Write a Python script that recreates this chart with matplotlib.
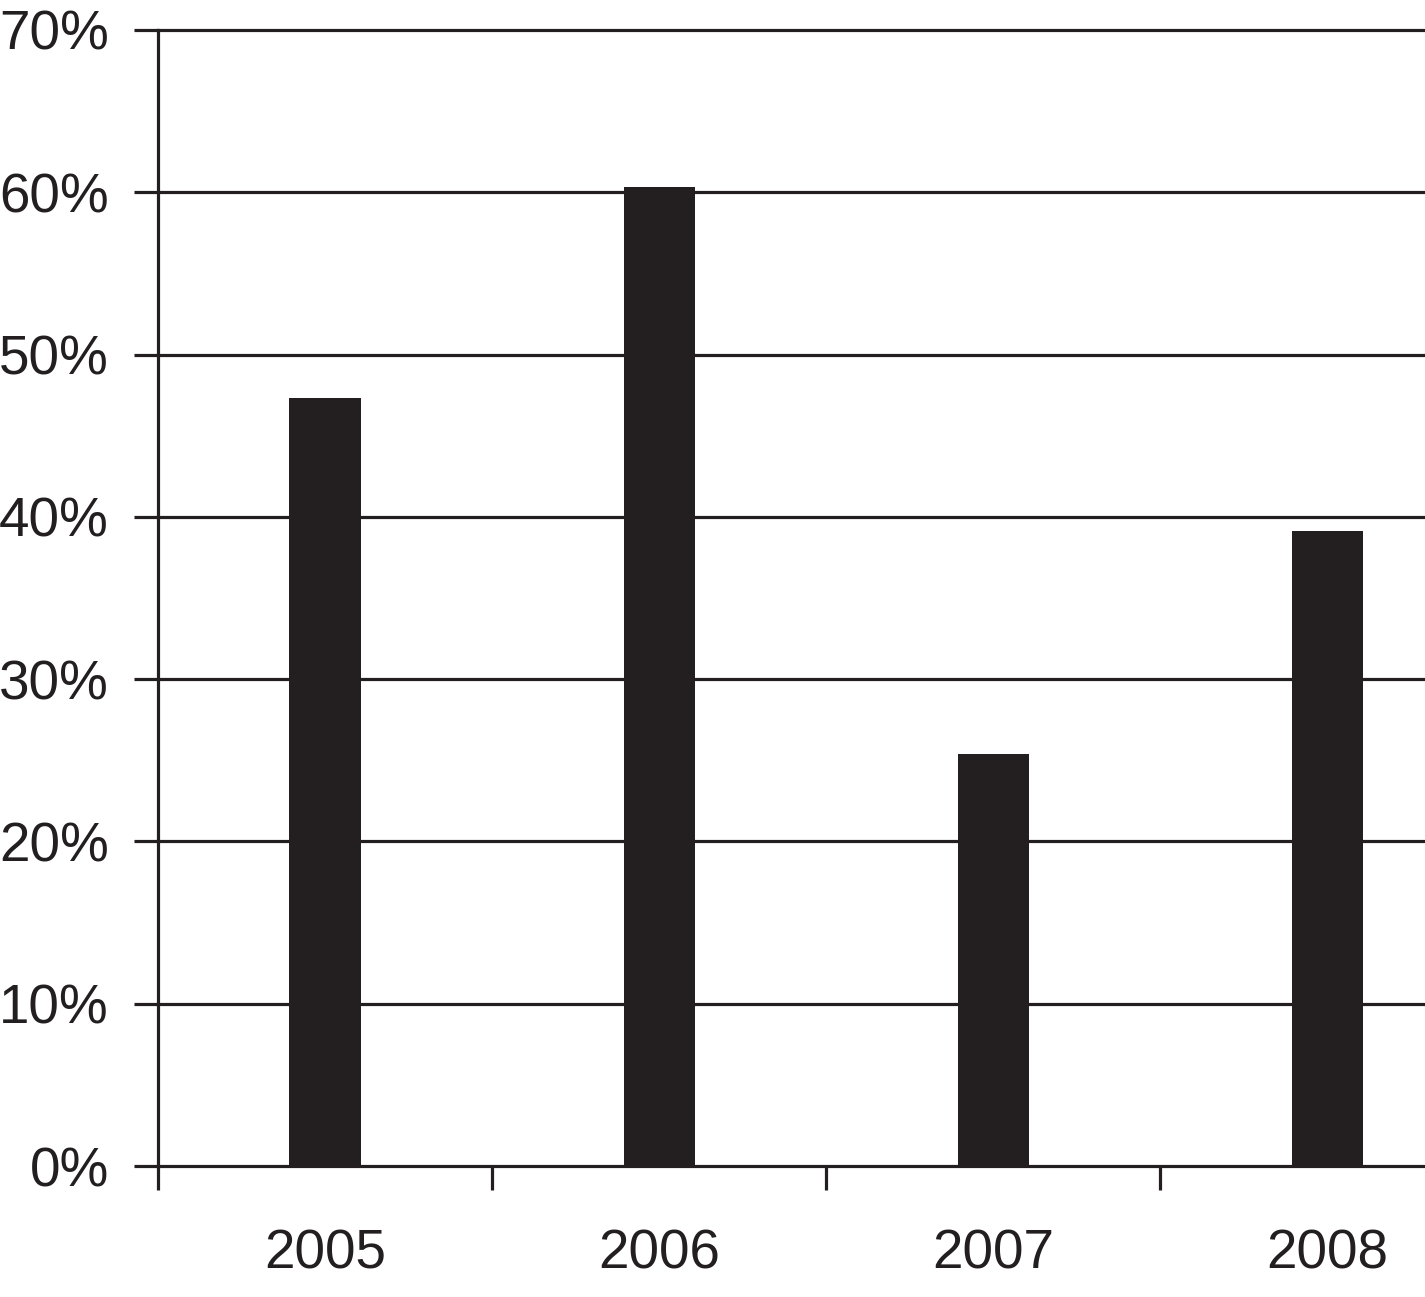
import numpy as np
import matplotlib
matplotlib.use("Agg")
import matplotlib.pyplot as plt
from matplotlib.ticker import FixedLocator, NullFormatter

plt.rcParams['font.family'] = ['Liberation Sans', 'DejaVu Sans']

years = ["2005", "2006", "2007", "2008"]
values = [47.3, 60.3, 25.4, 39.1]
yticks = [0, 10, 20, 30, 40, 50, 60, 70]
ytick_labels = [f"{v}%" for v in yticks]

ink = "#231f20"
fig = plt.figure(figsize=(14.25, 12.97), dpi=100)
ax = fig.add_axes([0.1109, 0.1010, 0.8891, 0.8759])

x = np.arange(len(years)) + 0.5
ax.bar(x, values, width=0.213, color=ink, zorder=3)

ax.set_xlim(0, 3.793)
ax.set_ylim(0, 70)

for s in ["top", "right", "bottom"]:
    ax.spines[s].set_visible(False)
ax.spines["left"].set_linewidth(2.3)
ax.spines["left"].set_color(ink)

ax.set_yticks(yticks)
ax.set_yticklabels(ytick_labels, fontsize=39.5, color=ink)
for v in yticks:
    ax.axhline(v, color=ink, lw=2.3, zorder=2, clip_on=False)
ax.tick_params(axis="y", length=17.3, width=2.3, color=ink, pad=18)

ax.xaxis.set_major_locator(FixedLocator([0, 1, 2, 3]))
ax.xaxis.set_major_formatter(NullFormatter())
ax.xaxis.set_minor_locator(FixedLocator(list(x)))
ax.set_xticklabels(years, minor=True, fontsize=39.5, color=ink)
ax.tick_params(axis="x", which="major", length=17.3, width=2.3, color=ink)
ax.tick_params(axis="x", which="minor", length=0, pad=45)

fig.savefig("out.png", dpi=100)
